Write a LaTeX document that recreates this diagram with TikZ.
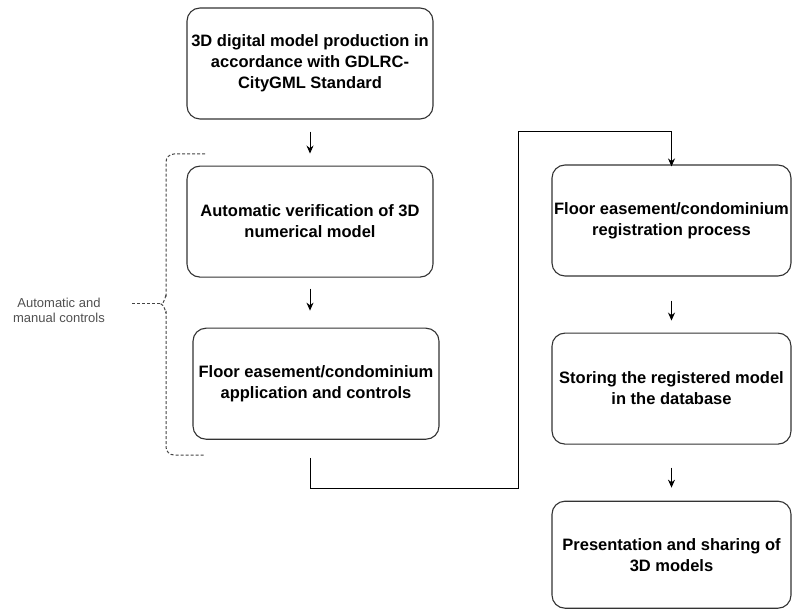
\documentclass[tikz,border=0pt]{standalone}
\usepackage{fontspec}
\setmainfont{Liberation Sans}
\usepackage{tikz}
\usetikzlibrary{positioning,arrows.meta}
\usepackage{xcolor}
\definecolor{edgegrey}{HTML}{333333}
\definecolor{notegrey}{HTML}{505050}

\begin{document}
\begin{tikzpicture}[x=1pt,y=-1pt,>={Stealth[length=8pt,width=7pt]},
  node distance=56pt,
  stage/.style={draw=edgegrey,line width=1.1pt,rounded corners=13pt,
    minimum width=246pt,minimum height=111pt,inner sep=0pt,align=center,
    font=\fontsize{16.5}{21}\selectfont\bfseries},
  flow/.style={->,line width=1pt,black},
  brace/.style={draw=notegrey!85!black,line width=1pt,dash pattern=on 3pt off 2pt}]
\useasboundingbox (0,0) rectangle (792,609);
% left column
\node[stage] (b1) at (310,63.5) {3D digital model production in\\accordance with GDLRC-\\CityGML Standard};
\node[stage] (b2) [below=46pt of b1] {Automatic verification of 3D\\numerical model};
\node[stage] (b3) [below=50pt of b2,xshift=6pt] {Floor easement/condominium\\application and controls};
% right column
\node[stage,minimum width=239pt] (b4) at (671.5,220.5) {Floor easement/condominium\\registration process};
\node[stage,minimum width=239pt] (b5) [below=of b4] {Storing the registered model\\in the database};
\node[stage,minimum width=239pt,minimum height=107pt] (b6) [below=of b5] {Presentation and sharing of\\3D models};
\draw[flow,shorten <=12pt,shorten >=12pt] (b1) -- (b2);
\draw[flow,shorten <=11pt,shorten >=17pt] (b2.south) -- (b2.south |- b3.north);
\draw[flow,shorten <=24pt,shorten >=12pt] (b4) -- (b5);
\draw[flow,shorten <=23pt,shorten >=13pt] (b5) -- (b6);
% jump to the right column
\coordinate (jog) at (518,488);
\coordinate (over) at (518,132);
\draw[flow] ([yshift=-18pt]b3.south -| b2.south) |- (jog) -- (over) -| ([yshift=-2pt]b4.north);
% brace for the controls
\node[font=\fontsize{13}{15}\selectfont,text=notegrey,align=center] (ctrl) at (59,310) {Automatic and\\manual controls};
\coordinate (tip) at (161,304);
\coordinate (lead) at (132,304);
\draw[brace,rounded corners=8pt] (205,154) -- (166,154) -- (166,297);
\draw[brace] (166,296) to[out=90,in=0] (tip) to[out=0,in=-90] (166,312);
\draw[brace,rounded corners=8pt] (166,311) -- (166,455) -- (205,455);
\draw[brace] (lead) -- (tip);
\end{tikzpicture}
\end{document}
